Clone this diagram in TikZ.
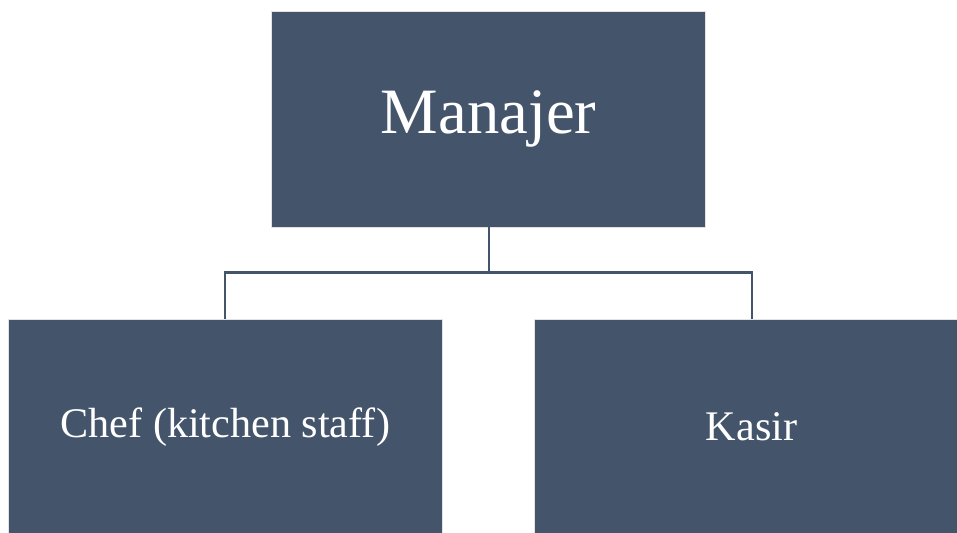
\documentclass[tikz,border=0pt]{standalone}
\usepackage{fontspec}
\setmainfont{Liberation Serif}
\usetikzlibrary{positioning}
\definecolor{slate}{HTML}{44546A}
\definecolor{rim}{HTML}{E3E3E3}

\begin{document}
\begin{tikzpicture}[x=0.025cm, y=-0.025cm, on grid,
  main box/.style={rectangle, fill=slate, draw=rim, line width=0.6pt, text=white, minimum width=10.85cm, minimum height=5.4cm, inner sep=0pt},
  link/.style={draw=slate, line width=1.5pt}]

\useasboundingbox (0,0) rectangle (957,532);
\clip (0,0) rectangle (957,532);

\node[main box, font=\fontsize{46}{50}\selectfont] (1) at (488.7,119) {Manajer};
\node[main box, font=\fontsize{30}{34}\selectfont] (2) [below left=7.7cm and 6.585cm of 1] {Chef (kitchen staff)};
\node[main box, font=\fontsize{30}{34}\selectfont] (3) [right=13.155cm of 2] {Kasir};

\draw[link] (1.south) -- ++(0,45) -| (2.north);
\draw[link] (1.south) -- ++(0,45) -| (3.north);

\end{tikzpicture}
\end{document}
